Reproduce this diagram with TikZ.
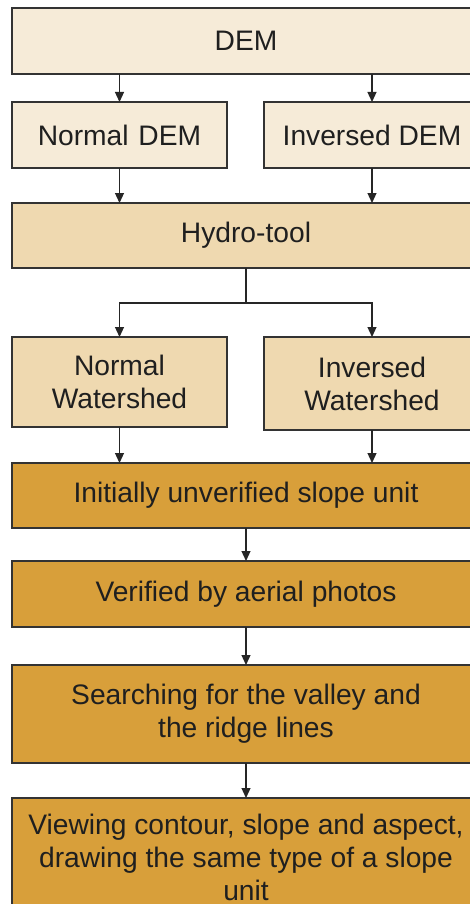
\documentclass[tikz,border=0pt]{standalone}
\usepackage{fontspec}
\setmainfont{Liberation Sans}
\usetikzlibrary{arrows.meta,calc}
\definecolor{lightfill}{HTML}{F6EBD8}
\definecolor{midfill}{HTML}{EFD9B0}
\definecolor{darkfill}{HTML}{D89F3A}
\definecolor{edge}{HTML}{333333}
\tikzset{
  box/.style={draw=edge, line width=1.4pt, minimum width=#1, inner sep=0pt, outer sep=0pt, align=center,
    font=\fontsize{28.2}{33}\selectfont, text=black!88},
  box/.default=468pt,
  conn/.style={draw=black!85, line width=1.2pt, -{Triangle[length=10pt,width=9pt]}},
}
\begin{document}
\begin{tikzpicture}[x=1pt,y=-1pt]
\useasboundingbox (0,0) rectangle (470,904);
\clip (0,0) rectangle (470,904);
\fill[white] (0,0) rectangle (470,904);
\node[box, fill=lightfill, minimum height=66pt] (dem) at (246,41) {DEM};
\node[box=215pt, fill=lightfill, minimum height=66pt] (ndem) at (119.5,135) {Normal\hspace{2pt} DEM};
\node[box=216pt, fill=lightfill, minimum height=66pt] (idem) at (372,135) {Inversed DEM};
\node[box, fill=midfill, minimum height=65pt] (hydro) at (246,235.5) {Hydro-tool};
\node[box=215pt, fill=midfill, minimum height=90pt] (nws) at (119.5,382) {Normal\\Watershed};
\node[box=216pt, fill=midfill, minimum height=93pt] (iws) at (372,383.5) {Inversed\\Watershed};
\node[box, fill=darkfill, minimum height=65pt] (init) at (246,495.5) {Initially unverified slope unit};
\node[box, fill=darkfill, minimum height=66pt] (verif) at (246,594) {Verified by aerial photos};
\node[box, fill=darkfill, minimum height=98pt] (search) at (246,714) {Searching for the valley and\\the ridge lines};
\node[box, fill=darkfill, minimum height=118pt] (view) at (246,857) {Viewing contour, slope and aspect,\\drawing the same type of a slope\\unit};
\coordinate (split) at ($(hydro.south)+(0,35)$);
\draw[conn] (dem.south -| ndem) -- (ndem.north);
\draw[conn] (dem.south -| idem) -- (idem.north);
\draw[conn] (ndem.south) -- (ndem.south |- hydro.north);
\draw[conn] (idem.south) -- (idem.south |- hydro.north);
\draw[conn, -] (hydro.south) -- (split);
\draw[conn] (split) -| (nws.north);
\draw[conn] (split) -| (iws.north);
\draw[conn] (nws.south) -- (nws.south |- init.north);
\draw[conn] (iws.south) -- (iws.south |- init.north);
\draw[conn] (init.south) -- (verif.north);
\draw[conn] (verif.south) -- (search.north);
\draw[conn] (search.south) -- (view.north);
\end{tikzpicture}
\end{document}
